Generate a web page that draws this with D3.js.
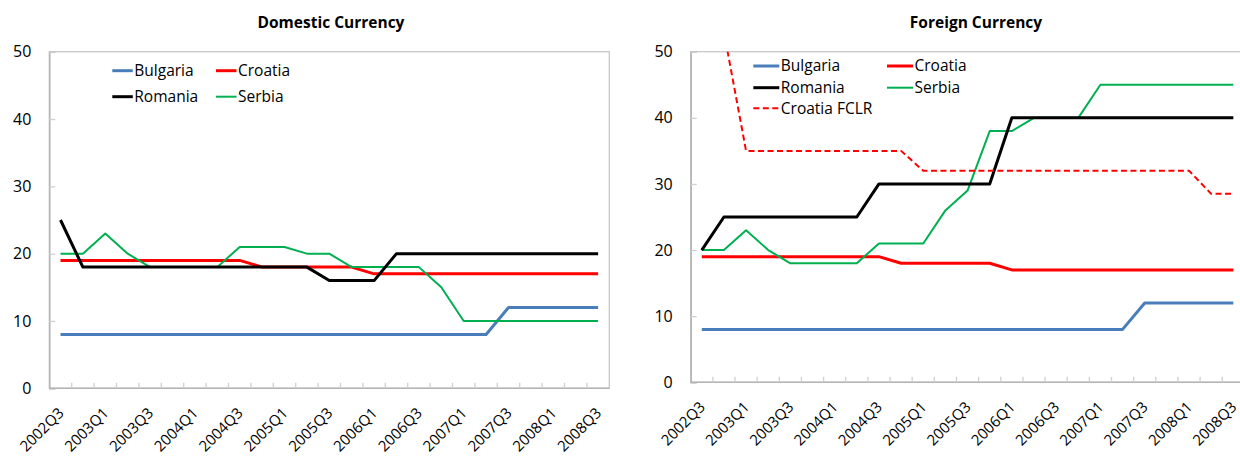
<!DOCTYPE html>
<html>
<head>
<meta charset="utf-8">
<script src="https://cdn.jsdelivr.net/npm/d3@7"></script>
<style>
  html, body { margin: 0; padding: 0; background: #ffffff; }
  svg { display: block; font-family: "Open Sans", "Noto Sans", sans-serif; }
</style>
</head>
<body>
<svg id="chart" width="1240" height="457"></svg>
<script>
// Quarters shown on the category axis
const quarters = [
  "2002Q3","2002Q4","2003Q1","2003Q2","2003Q3","2003Q4","2004Q1","2004Q2","2004Q3","2004Q4",
  "2005Q1","2005Q2","2005Q3","2005Q4","2006Q1","2006Q2","2006Q3","2006Q4","2007Q1","2007Q2",
  "2007Q3","2007Q4","2008Q1","2008Q2","2008Q3"
];
const tickLabels = ["2002Q3","2003Q1","2003Q3","2004Q1","2004Q3","2005Q1","2005Q3",
  "2006Q1","2006Q3","2007Q1","2007Q3","2008Q1","2008Q3"];
const yTicks = [0, 10, 20, 30, 40, 50];

// Domestic currency reserve requirement rates (%)
const domBulgaria = [8,8,8,8,8,8,8,8,8,8,8,8,8,8,8,8,8,8,8,8,12,12,12,12,12];
const domCroatia  = [19,19,19,19,19,19,19,19,19,18,18,18,18,18,17,17,17,17,17,17,17,17,17,17,17];
const domRomania  = [25,18,18,18,18,18,18,18,18,18,18,18,16,16,16,20,20,20,20,20,20,20,20,20,20];
const domSerbia   = [20,20,23,20,18,18,18,18,21,21,21,20,20,18,18,18,18,15,10,10,10,10,10,10,10];

// Foreign currency reserve requirement rates (%)
const forBulgaria = [8,8,8,8,8,8,8,8,8,8,8,8,8,8,8,8,8,8,8,8,12,12,12,12,12];
const forCroatia  = [19,19,19,19,19,19,19,19,19,18,18,18,18,18,17,17,17,17,17,17,17,17,17,17,17];
const forRomania  = [20,25,25,25,25,25,25,25,30,30,30,30,30,30,40,40,40,40,40,40,40,40,40,40,40];
const forSerbia   = [20,20,23,20,18,18,18,18,21,21,21,26,29,38,38,40,40,40,45,45,45,45,45,45,45];
const forCroatiaFCLR = [null,53,35,35,35,35,35,35,35,35,32,32,32,32,32,32,32,32,32,32,32,32,32,28.5,28.5];

const svg = d3.select("#chart");

const styles = {
  "Bulgaria":     { color: "#4A7EBB", width: 3, dash: null },
  "Croatia":      { color: "#FF0000", width: 3, dash: null },
  "Romania":      { color: "#000000", width: 3, dash: null },
  "Serbia":       { color: "#00B050", width: 2, dash: null },
  "Croatia FCLR": { color: "#FF0000", width: 2, dash: "6,3.5" }
};

function drawPanel(cfg) {
  const g = svg.append("g");
  const x = d3.scaleBand().domain(quarters).range([cfg.left, cfg.right]).padding(0);
  const y = d3.scaleLinear().domain([0, 50]).range([cfg.bottom, cfg.top]);
  const cx = q => x(q) + x.bandwidth() / 2;

  // title
  g.append("text")
    .attr("x", cfg.titleX).attr("y", 28)
    .attr("text-anchor", "middle")
    .attr("font-size", 15.5).attr("font-weight", "bold").attr("fill", "#000")
    .text(cfg.title);

  // plot frame
  g.append("rect")
    .attr("x", cfg.left).attr("y", cfg.top)
    .attr("width", cfg.right - cfg.left).attr("height", cfg.bottom - cfg.top)
    .attr("fill", "none").attr("stroke", "#C8C8C8").attr("stroke-width", 1.3);

  // y axis
  const yAxis = d3.axisLeft(y).tickValues(yTicks).tickSize(-6).tickPadding(18).tickFormat(d3.format("d"));
  const ya = g.append("g").attr("transform", `translate(${cfg.left},0)`).call(yAxis);
  ya.select(".domain").attr("stroke", "#B4B4B4").attr("stroke-width", 1.5);
  ya.selectAll(".tick line").attr("stroke", "#D0D0D0").attr("stroke-width", 1.3);
  ya.selectAll(".tick text").attr("font-size", 16).attr("fill", "#000")
    .attr("font-family", "'Open Sans', 'Noto Sans', sans-serif");

  // x axis baseline and inward ticks at category boundaries
  g.append("line")
    .attr("x1", cfg.left).attr("x2", cfg.right)
    .attr("y1", y(0)).attr("y2", y(0))
    .attr("stroke", "#B4B4B4").attr("stroke-width", 1.5);
  g.selectAll(".xtick").data(quarters.slice(1)).enter().append("line")
    .attr("x1", d => x(d)).attr("x2", d => x(d))
    .attr("y1", y(0)).attr("y2", y(0) - 5.5)
    .attr("stroke", "#D0D0D0").attr("stroke-width", 1.3);

  // x labels, rotated
  g.selectAll(".xlabel").data(tickLabels).enter().append("text")
    .attr("transform", d => `translate(${cx(d) + 0.5},${y(0) + 22}) rotate(-45)`)
    .attr("text-anchor", "end").attr("dy", "0.35em")
    .attr("font-size", 15).attr("fill", "#000")
    .text(d => d);

  // clip series to the plot area
  const clipId = "clip-" + cfg.id;
  svg.append("clipPath").attr("id", clipId).append("rect")
    .attr("x", cfg.left).attr("y", cfg.top)
    .attr("width", cfg.right - cfg.left).attr("height", cfg.bottom - cfg.top);

  const line = d3.line()
    .defined(d => d.v !== null)
    .x(d => cx(d.q)).y(d => y(d.v));

  const lines = g.append("g").attr("clip-path", `url(#${clipId})`);
  cfg.series.forEach(s => {
    const st = styles[s.name];
    lines.append("path")
      .datum(s.values.map((v, i) => ({ q: quarters[i], v })))
      .attr("d", line)
      .attr("fill", "none")
      .attr("stroke", st.color)
      .attr("stroke-width", st.width)
      .attr("stroke-dasharray", st.dash)
      .attr("stroke-linejoin", "round");
  });

  // legend
  const lg = g.append("g");
  cfg.legend.forEach(item => {
    const st = styles[item.name];
    lg.append("line")
      .attr("x1", item.x).attr("x2", item.x + cfg.legendLen)
      .attr("y1", item.y).attr("y2", item.y)
      .attr("stroke", st.color).attr("stroke-width", st.width)
      .attr("stroke-dasharray", st.dash);
    lg.append("text")
      .attr("x", item.x + cfg.legendLen + 1.5).attr("y", item.y)
      .attr("dy", "0.35em")
      .attr("font-size", 15.5).attr("fill", "#000")
      .text(item.name);
  });
}

drawPanel({
  id: "dom", title: "Domestic Currency", titleX: 331,
  left: 49.3, right: 609.3, top: 51.7, bottom: 388.3,
  series: [
    { name: "Bulgaria", values: domBulgaria },
    { name: "Croatia",  values: domCroatia },
    { name: "Serbia",   values: domSerbia },
    { name: "Romania",  values: domRomania }
  ],
  legendLen: 20.5,
  legend: [
    { name: "Bulgaria", x: 112.3, y: 70.7 },
    { name: "Croatia",  x: 216,   y: 70.7 },
    { name: "Romania",  x: 112.3, y: 96.7 },
    { name: "Serbia",   x: 216,   y: 96.7 }
  ]
});

drawPanel({
  id: "for", title: "Foreign Currency", titleX: 976,
  left: 690.7, right: 1244.4, top: 51.7, bottom: 382.3,
  series: [
    { name: "Bulgaria", values: forBulgaria },
    { name: "Croatia",  values: forCroatia },
    { name: "Serbia",   values: forSerbia },
    { name: "Romania",  values: forRomania },
    { name: "Croatia FCLR", values: forCroatiaFCLR }
  ],
  legendLen: 26,
  legend: [
    { name: "Bulgaria", x: 753.3, y: 66 },
    { name: "Croatia",  x: 887,   y: 66 },
    { name: "Romania",  x: 753.3, y: 87.7 },
    { name: "Serbia",   x: 887,   y: 87.7 },
    { name: "Croatia FCLR", x: 753.3, y: 108.3 }
  ]
});
</script>
</body>
</html>
